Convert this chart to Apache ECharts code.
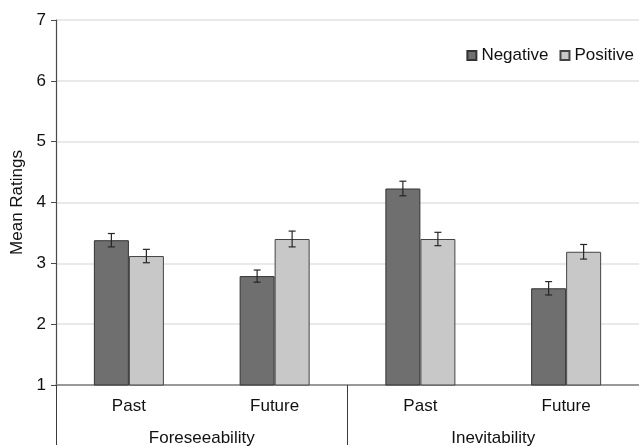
<!DOCTYPE html>
<html><head><meta charset="utf-8">
<script src="https://cdn.jsdelivr.net/npm/echarts@6/dist/echarts.min.js"></script>
<style>html,body{margin:0;padding:0;background:#fff}#c{width:639px;height:447px}</style>
</head><body><div id="c"></div>
<script>
const categories = ['Past', 'Future', 'Past', 'Future'];
const groups = ['Foreseeability', 'Inevitability'];
const negative = [3.38, 2.79, 4.23, 2.59];
const positive = [3.12, 3.40, 3.40, 3.19];
const negativeErr = [0.11, 0.10, 0.12, 0.11];
const positiveErr = [0.11, 0.13, 0.11, 0.12];
const yTicks = [1, 2, 3, 4, 5, 6, 7];

const chart = echarts.init(document.getElementById('c'), null, {renderer: 'canvas'});
const font = 'Liberation Sans, Arial, sans-serif';
const fs = 17;
const barW = 35;

function errSeries(vals, errs, shift) {
  return {
    type: 'custom',
    xAxisIndex: 0,
    z: 5,
    data: vals.map((v, i) => [i, v - errs[i], v + errs[i]]),
    renderItem: function (params, api) {
      const c = api.value(0);
      const lo = api.coord([c, api.value(1)]);
      const hi = api.coord([c, api.value(2)]);
      const x = lo[0] + shift;
      const cap = 3.5;
      const st = {stroke: '#262626', lineWidth: 1.2};
      return {type: 'group', children: [
        {type: 'line', shape: {x1: x, y1: lo[1], x2: x, y2: hi[1]}, style: st},
        {type: 'line', shape: {x1: x - cap, y1: lo[1], x2: x + cap, y2: lo[1]}, style: st},
        {type: 'line', shape: {x1: x - cap, y1: hi[1], x2: x + cap, y2: hi[1]}, style: st}
      ]};
    }
  };
}

chart.setOption({
  animation: false,
  textStyle: {fontFamily: font},
  grid: {left: 56, right: 0, top: 20, bottom: 59},
  legend: {
    data: ['Negative', 'Positive'],
    right: 0, top: 42,
    itemWidth: 9, itemHeight: 9, itemGap: 11,
    icon: 'rect',
    textStyle: {fontSize: fs, color: '#111', fontFamily: font}
  },
  xAxis: [
    {
      type: 'category', data: categories, position: 'bottom',
      axisLine: {show: true, lineStyle: {color: '#7f7f7f', width: 1.5}},
      axisTick: {show: false},
      axisLabel: {fontSize: fs, color: '#111', margin: 13, fontFamily: font}
    },
    {
      type: 'category', data: groups, position: 'bottom',
      axisLine: {show: false},
      axisTick: {show: true, length: 60, interval: 0, lineStyle: {color: '#3a3a3a', width: 1}},
      axisLabel: {fontSize: fs, color: '#111', margin: 45, fontFamily: font}
    }
  ],
  yAxis: {
    type: 'value', min: 1, max: 7, interval: 1,
    name: 'Mean Ratings', nameLocation: 'middle', nameGap: 29,
    nameTextStyle: {fontSize: fs, color: '#111', fontFamily: font},
    axisLine: {show: true, lineStyle: {color: '#4a4a4a', width: 1.2}},
    axisTick: {show: true, length: 5, lineStyle: {color: '#4a4a4a'}},
    axisLabel: {fontSize: fs, color: '#111', margin: 10, fontFamily: font,
      formatter: v => yTicks.indexOf(v) >= 0 ? String(v) : ''},
    splitLine: {show: true, lineStyle: {color: '#e2e2e2', width: 1.5}}
  },
  series: [
    {name: 'Negative', type: 'bar', xAxisIndex: 0, data: negative, barWidth: barW, barGap: '0%',
      itemStyle: {color: '#6f6f6f', borderColor: '#333', borderWidth: 1}},
    {name: 'Positive', type: 'bar', xAxisIndex: 0, data: positive, barWidth: barW, barGap: '0%',
      itemStyle: {color: '#c8c8c8', borderColor: '#444', borderWidth: 1}},
    errSeries(negative, negativeErr, -barW / 2),
    errSeries(positive, positiveErr, barW / 2)
  ]
});
</script></body></html>
